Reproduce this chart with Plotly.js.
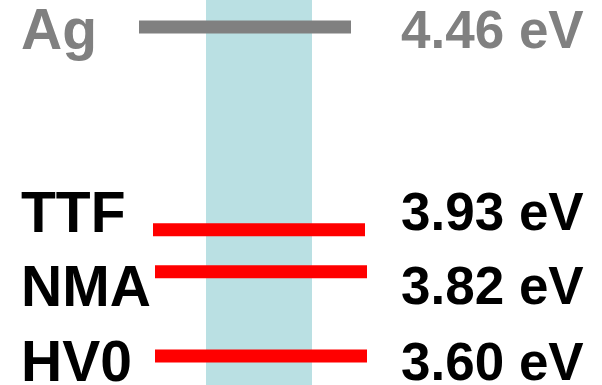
<!DOCTYPE html>
<html>
<head>
<meta charset="utf-8">
<script src="https://cdn.plot.ly/plotly-3.0.1.min.js"></script>
<style>
  html, body { margin: 0; padding: 0; background: #ffffff; }
  #chart { width: 602px; height: 385px; }
</style>
</head>
<body>
<div id="chart"></div>
<script>
// Work functions / energy levels (eV)
const materials = ['Ag', 'TTF', 'NMA', 'HV0'];
const energies = [4.46, 3.93, 3.82, 3.60];
const valueLabels = ['4.46 eV', '3.93 eV', '3.82 eV', '3.60 eV'];
const levelColors = ['#808080', '#ff0000', '#ff0000', '#ff0000'];
const textColors = ['#808080', '#000000', '#000000', '#000000'];

// Horizontal extent of each level bar (x in a 0..602 frame)
const barStart = [139, 153, 155, 155];
const barEnd = [351, 365, 367, 367];
// Vertical nudge (px) that keeps the closely spaced labels from colliding
const labelNudge = [-2, 18, -14, -5];

const traces = energies.map((e, i) => ({
  type: 'scatter',
  mode: 'lines',
  x: [barStart[i], barEnd[i]],
  y: [e, e],
  line: { color: levelColors[i], width: 13 },
  hoverinfo: 'skip',
  showlegend: false
}));

const font = 'Liberation Sans, Arial, sans-serif';
const annotations = [];
energies.forEach((e, i) => {
  annotations.push({
    x: 19, y: e, xref: 'x', yref: 'y',
    xanchor: 'left', yanchor: 'middle', yshift: labelNudge[i],
    text: '<b>' + materials[i] + '</b>',
    showarrow: false,
    font: { family: font, size: 57, color: textColors[i] }
  });
  annotations.push({
    x: 399, y: e, xref: 'x', yref: 'y',
    xanchor: 'left', yanchor: 'middle', yshift: labelNudge[i],
    text: '<b>' + valueLabels[i] + '</b>',
    showarrow: false,
    font: { family: font, size: 53, color: textColors[i] }
  });
});

const layout = {
  width: 602,
  height: 385,
  margin: { l: 0, r: 0, t: 0, b: 0 },
  paper_bgcolor: '#ffffff',
  plot_bgcolor: '#ffffff',
  xaxis: { range: [0, 602], visible: false, fixedrange: true },
  yaxis: { range: [3.5242, 4.5306], visible: false, fixedrange: true },
  shapes: [{
    type: 'rect', xref: 'x', yref: 'paper',
    x0: 206, x1: 312, y0: 0, y1: 1,
    fillcolor: '#bae0e3', line: { width: 0 }, layer: 'below'
  }],
  annotations: annotations,
  showlegend: false
};

Plotly.newPlot('chart', traces, layout, { displayModeBar: false, staticPlot: true });
</script>
</body>
</html>
